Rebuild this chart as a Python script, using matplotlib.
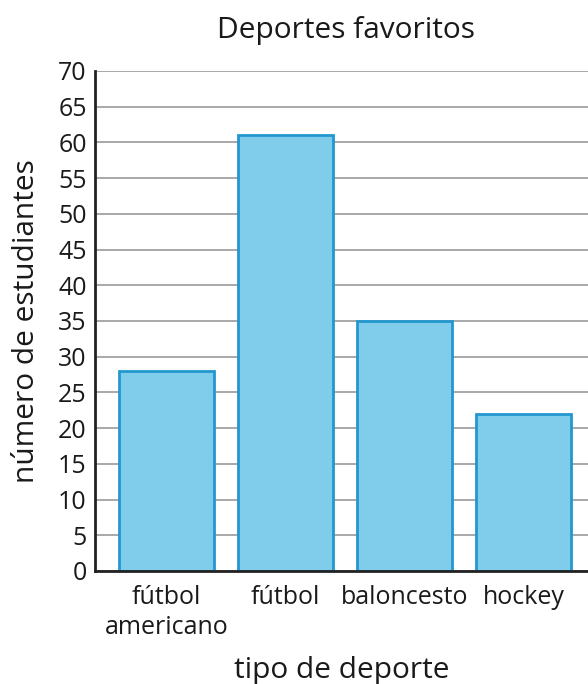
import matplotlib
matplotlib.use("Agg")
import matplotlib.pyplot as plt

categories = ["fútbol\namericano", "fútbol", "baloncesto", "hockey"]
values = [28, 61, 35, 22]
yticks = list(range(0, 75, 5))

plt.rcParams['font.family'] = ['Open Sans', 'DejaVu Sans']

fig = plt.figure(figsize=(5.88, 6.84), dpi=100)
ax = fig.add_axes([95/588, 1-571/684, 1-95/588, (571-71)/684])

x = list(range(len(categories)))
ax.bar(x, values, width=0.8, color="#7fcdeb", edgecolor="#2497cf", linewidth=2, zorder=3)

ax.set_ylim(0, 70)
ax.set_xlim(-0.601, 3.542)
ax.set_yticks(yticks)
ax.set_yticklabels([str(v) for v in yticks])
ax.set_xticks(x)
ax.set_xticklabels(categories, linespacing=1.25)
ax.tick_params(axis='both', length=0, labelsize=18, colors="#1a1a1a")
ax.tick_params(axis='y', pad=6)
ax.tick_params(axis='x', pad=10)
ax.yaxis.grid(True, color="#999999", linewidth=1.2, zorder=0)
ax.set_axisbelow(True)
for s in ["top", "right"]:
    ax.spines[s].set_visible(False)
for s in ["left", "bottom"]:
    ax.spines[s].set_color("#222222")
    ax.spines[s].set_linewidth(2)
    ax.spines[s].set_zorder(4)

ax.set_title("Deportes favoritos", fontsize=21.5, color="#1a1a1a", pad=24, x=0.51)
ax.set_xlabel("tipo de deporte", fontsize=21.5, color="#1a1a1a", labelpad=12)
ax.set_ylabel("número de estudiantes", fontsize=21.5, color="#1a1a1a", labelpad=12)

fig.savefig("out.png", dpi=100)
